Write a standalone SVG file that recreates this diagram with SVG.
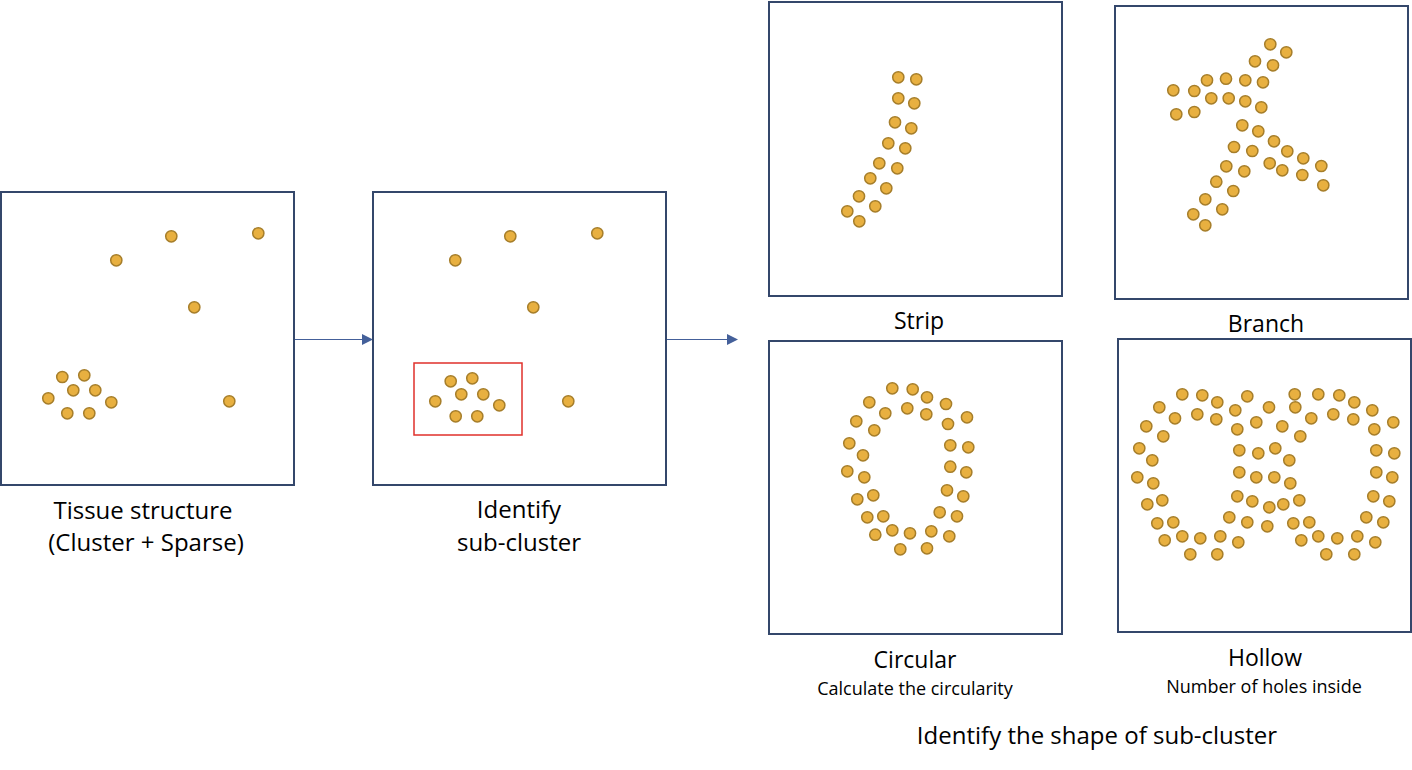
<svg xmlns="http://www.w3.org/2000/svg" xmlns:xlink="http://www.w3.org/1999/xlink" width="1412" height="770" viewBox="0 0 1412 770">
<style>
.panel{fill:#FFFFFF;stroke:#34476B;stroke-width:2}
.d{fill:#E8B040;stroke:#A67E2A;stroke-width:1.5}
.lbl{font-family:"Open Sans","Noto Sans","Liberation Sans",sans-serif;fill:#000000;text-anchor:middle}
.big{font-size:24px}
.mid{font-size:23px}
.sm{font-size:18px}
.conn{stroke:#44609A;stroke-width:1.2;fill:none}
</style>
<defs>
<marker id="ah" markerWidth="11" markerHeight="11" refX="10" refY="5.5" orient="auto" markerUnits="userSpaceOnUse">
<path d="M0,0 L11,5.5 L0,11 Z" fill="#44609A"/>
</marker>
</defs>
<rect width="1412" height="770" fill="#FFFFFF"/>

<g id="connectors">
<line class="conn" x1="294" y1="339.5" x2="372" y2="339.5" marker-end="url(#ah)"/>
<line class="conn" x1="666" y1="339.5" x2="737" y2="339.5" marker-end="url(#ah)"/>
</g>

<g id="tissue">
<rect class="panel" x="1" y="192" width="293" height="293"/>
<circle class="d" cx="171.3" cy="236.3" r="5.6"/>
<circle class="d" cx="258.3" cy="233.3" r="5.6"/>
<circle class="d" cx="116.3" cy="260.3" r="5.6"/>
<circle class="d" cx="194.3" cy="307.3" r="5.6"/>
<circle class="d" cx="62.3" cy="377" r="5.6"/>
<circle class="d" cx="84.3" cy="375.3" r="5.6"/>
<circle class="d" cx="73.3" cy="390.3" r="5.6"/>
<circle class="d" cx="95.3" cy="390.3" r="5.6"/>
<circle class="d" cx="48.3" cy="398.3" r="5.6"/>
<circle class="d" cx="111.3" cy="402.3" r="5.6"/>
<circle class="d" cx="67.3" cy="413.3" r="5.6"/>
<circle class="d" cx="89.3" cy="413.3" r="5.6"/>
<circle class="d" cx="229.3" cy="401.3" r="5.6"/>
<text class="lbl big" x="143" y="519">Tissue structure</text>
<text class="lbl big" x="146" y="551">(Cluster + Sparse)</text>
</g>

<g id="identify">
<rect class="panel" x="373" y="192" width="293" height="293"/>
<circle class="d" cx="510.3" cy="236.3" r="5.6"/>
<circle class="d" cx="597.3" cy="233.3" r="5.6"/>
<circle class="d" cx="455.3" cy="260.3" r="5.6"/>
<circle class="d" cx="533.3" cy="307.3" r="5.6"/>
<circle class="d" cx="568.3" cy="401.3" r="5.6"/>
<circle class="d" cx="450.7" cy="381.3" r="5.6"/>
<circle class="d" cx="472.3" cy="378.3" r="5.6"/>
<circle class="d" cx="461.3" cy="394.3" r="5.6"/>
<circle class="d" cx="483.3" cy="394.3" r="5.6"/>
<circle class="d" cx="435.3" cy="401.3" r="5.6"/>
<circle class="d" cx="499.3" cy="405.3" r="5.6"/>
<circle class="d" cx="455.7" cy="416.3" r="5.6"/>
<circle class="d" cx="477.3" cy="416.3" r="5.6"/>
<rect x="414" y="363" width="108" height="72" fill="none" stroke="#E0312B" stroke-width="1.5"/>
<text class="lbl big" x="519" y="518">Identify</text>
<text class="lbl big" x="519" y="551">sub-cluster</text>
</g>

<g id="strip">
<rect class="panel" x="769" y="2" width="293" height="294"/>
<circle class="d" cx="898.3" cy="77.3" r="5.6"/>
<circle class="d" cx="916.3" cy="79.3" r="5.6"/>
<circle class="d" cx="898.3" cy="98.3" r="5.6"/>
<circle class="d" cx="914.3" cy="103.3" r="5.6"/>
<circle class="d" cx="895" cy="122.3" r="5.6"/>
<circle class="d" cx="911.3" cy="128.3" r="5.6"/>
<circle class="d" cx="888.3" cy="143.3" r="5.6"/>
<circle class="d" cx="905.3" cy="148.3" r="5.6"/>
<circle class="d" cx="879.3" cy="163.3" r="5.6"/>
<circle class="d" cx="897.3" cy="168.3" r="5.6"/>
<circle class="d" cx="870.3" cy="178.3" r="5.6"/>
<circle class="d" cx="886.3" cy="188.3" r="5.6"/>
<circle class="d" cx="859" cy="196.3" r="5.6"/>
<circle class="d" cx="875.3" cy="206.3" r="5.6"/>
<circle class="d" cx="847.3" cy="211.3" r="5.6"/>
<circle class="d" cx="859.3" cy="221.3" r="5.6"/>
<text class="lbl mid" x="919" y="329">Strip</text>
</g>

<g id="branch">
<rect class="panel" x="1115" y="6" width="293" height="293"/>
<circle class="d" cx="1270.3" cy="44.3" r="5.6"/>
<circle class="d" cx="1286.3" cy="52.3" r="5.6"/>
<circle class="d" cx="1255" cy="61.3" r="5.6"/>
<circle class="d" cx="1273" cy="65.3" r="5.6"/>
<circle class="d" cx="1207" cy="80.3" r="5.6"/>
<circle class="d" cx="1226" cy="78.7" r="5.6"/>
<circle class="d" cx="1245.3" cy="80.3" r="5.6"/>
<circle class="d" cx="1263" cy="82.3" r="5.6"/>
<circle class="d" cx="1173.3" cy="90.3" r="5.6"/>
<circle class="d" cx="1194.3" cy="91" r="5.6"/>
<circle class="d" cx="1211.3" cy="98.3" r="5.6"/>
<circle class="d" cx="1228.7" cy="98.3" r="5.6"/>
<circle class="d" cx="1245.3" cy="101.3" r="5.6"/>
<circle class="d" cx="1261.3" cy="107.3" r="5.6"/>
<circle class="d" cx="1176.3" cy="114.3" r="5.6"/>
<circle class="d" cx="1194.3" cy="112" r="5.6"/>
<circle class="d" cx="1242.3" cy="125.3" r="5.6"/>
<circle class="d" cx="1258.3" cy="131.3" r="5.6"/>
<circle class="d" cx="1274" cy="141.3" r="5.6"/>
<circle class="d" cx="1234" cy="147" r="5.6"/>
<circle class="d" cx="1252.3" cy="151" r="5.6"/>
<circle class="d" cx="1287.3" cy="151.3" r="5.6"/>
<circle class="d" cx="1303.3" cy="158.3" r="5.6"/>
<circle class="d" cx="1321.3" cy="166" r="5.6"/>
<circle class="d" cx="1226.3" cy="166.3" r="5.6"/>
<circle class="d" cx="1269.7" cy="163.3" r="5.6"/>
<circle class="d" cx="1282.3" cy="170.3" r="5.6"/>
<circle class="d" cx="1244.3" cy="171.3" r="5.6"/>
<circle class="d" cx="1302.3" cy="175" r="5.6"/>
<circle class="d" cx="1323.3" cy="185.3" r="5.6"/>
<circle class="d" cx="1216.3" cy="181.7" r="5.6"/>
<circle class="d" cx="1233.3" cy="191" r="5.6"/>
<circle class="d" cx="1205.3" cy="199.3" r="5.6"/>
<circle class="d" cx="1222.3" cy="209.3" r="5.6"/>
<circle class="d" cx="1193.3" cy="214.3" r="5.6"/>
<circle class="d" cx="1205.3" cy="225.3" r="5.6"/>
<text class="lbl mid" x="1266" y="332">Branch</text>
</g>

<g id="circular">
<rect class="panel" x="769" y="341" width="293" height="293"/>
<circle class="d" cx="892.3" cy="388.3" r="5.6"/>
<circle class="d" cx="912.7" cy="389.3" r="5.6"/>
<circle class="d" cx="927" cy="397.3" r="5.6"/>
<circle class="d" cx="869.3" cy="402.3" r="5.6"/>
<circle class="d" cx="946" cy="404" r="5.6"/>
<circle class="d" cx="885.3" cy="413.3" r="5.6"/>
<circle class="d" cx="907.3" cy="408.3" r="5.6"/>
<circle class="d" cx="926.3" cy="414.3" r="5.6"/>
<circle class="d" cx="967" cy="417.3" r="5.6"/>
<circle class="d" cx="856.3" cy="421.3" r="5.6"/>
<circle class="d" cx="948" cy="424" r="5.6"/>
<circle class="d" cx="874.3" cy="430.3" r="5.6"/>
<circle class="d" cx="849.3" cy="443.3" r="5.6"/>
<circle class="d" cx="950.3" cy="445.3" r="5.6"/>
<circle class="d" cx="968.3" cy="447.3" r="5.6"/>
<circle class="d" cx="863" cy="455.3" r="5.6"/>
<circle class="d" cx="847.3" cy="471.3" r="5.6"/>
<circle class="d" cx="950.3" cy="466.7" r="5.6"/>
<circle class="d" cx="966.3" cy="472.3" r="5.6"/>
<circle class="d" cx="864.3" cy="477.3" r="5.6"/>
<circle class="d" cx="857.3" cy="499.3" r="5.6"/>
<circle class="d" cx="873.3" cy="495.3" r="5.6"/>
<circle class="d" cx="947" cy="490.3" r="5.6"/>
<circle class="d" cx="963.3" cy="496.3" r="5.6"/>
<circle class="d" cx="867.3" cy="517.3" r="5.6"/>
<circle class="d" cx="883.3" cy="516.3" r="5.6"/>
<circle class="d" cx="939.7" cy="512.3" r="5.6"/>
<circle class="d" cx="957" cy="516.3" r="5.6"/>
<circle class="d" cx="875.3" cy="534.7" r="5.6"/>
<circle class="d" cx="892.3" cy="530.3" r="5.6"/>
<circle class="d" cx="910" cy="533.3" r="5.6"/>
<circle class="d" cx="931.3" cy="531.3" r="5.6"/>
<circle class="d" cx="949.3" cy="536.3" r="5.6"/>
<circle class="d" cx="900.3" cy="549.3" r="5.6"/>
<circle class="d" cx="927" cy="548.3" r="5.6"/>
<text class="lbl mid" x="915" y="668">Circular</text>
<text class="lbl sm" x="915" y="695">Calculate the circularity</text>
</g>

<g id="hollow">
<rect class="panel" x="1118" y="339" width="293" height="293"/>
<circle class="d" cx="1182.3" cy="394.3" r="5.6"/>
<circle class="d" cx="1202.3" cy="395.3" r="5.6"/>
<circle class="d" cx="1217.3" cy="402.3" r="5.6"/>
<circle class="d" cx="1247.3" cy="396.3" r="5.6"/>
<circle class="d" cx="1294.7" cy="394.3" r="5.6"/>
<circle class="d" cx="1318.3" cy="394.3" r="5.6"/>
<circle class="d" cx="1339.3" cy="395.3" r="5.6"/>
<circle class="d" cx="1354.3" cy="402.3" r="5.6"/>
<circle class="d" cx="1159.3" cy="407.3" r="5.6"/>
<circle class="d" cx="1235.3" cy="410.3" r="5.6"/>
<circle class="d" cx="1269" cy="407.3" r="5.6"/>
<circle class="d" cx="1295.3" cy="407.3" r="5.6"/>
<circle class="d" cx="1372.3" cy="410.3" r="5.6"/>
<circle class="d" cx="1175" cy="418.3" r="5.6"/>
<circle class="d" cx="1197.3" cy="414.3" r="5.6"/>
<circle class="d" cx="1216.3" cy="419.3" r="5.6"/>
<circle class="d" cx="1256.3" cy="422.3" r="5.6"/>
<circle class="d" cx="1311.3" cy="418.3" r="5.6"/>
<circle class="d" cx="1333.3" cy="414.3" r="5.6"/>
<circle class="d" cx="1353.3" cy="419.3" r="5.6"/>
<circle class="d" cx="1393.3" cy="422.3" r="5.6"/>
<circle class="d" cx="1146.3" cy="426.3" r="5.6"/>
<circle class="d" cx="1237.3" cy="429.3" r="5.6"/>
<circle class="d" cx="1282.3" cy="426.3" r="5.6"/>
<circle class="d" cx="1374.3" cy="429.3" r="5.6"/>
<circle class="d" cx="1163.3" cy="436.3" r="5.6"/>
<circle class="d" cx="1300.3" cy="436.3" r="5.6"/>
<circle class="d" cx="1139.3" cy="448.3" r="5.6"/>
<circle class="d" cx="1239.3" cy="450.3" r="5.6"/>
<circle class="d" cx="1258.3" cy="453.3" r="5.6"/>
<circle class="d" cx="1275.3" cy="448.3" r="5.6"/>
<circle class="d" cx="1376.3" cy="450.3" r="5.6"/>
<circle class="d" cx="1394.3" cy="453.3" r="5.6"/>
<circle class="d" cx="1152.3" cy="460.3" r="5.6"/>
<circle class="d" cx="1289.3" cy="460.3" r="5.6"/>
<circle class="d" cx="1137.3" cy="477.3" r="5.6"/>
<circle class="d" cx="1239.3" cy="472.3" r="5.6"/>
<circle class="d" cx="1256.3" cy="477.3" r="5.6"/>
<circle class="d" cx="1274.3" cy="477.3" r="5.6"/>
<circle class="d" cx="1376.3" cy="472.3" r="5.6"/>
<circle class="d" cx="1392.3" cy="477.3" r="5.6"/>
<circle class="d" cx="1153.3" cy="483.3" r="5.6"/>
<circle class="d" cx="1290.3" cy="483.3" r="5.6"/>
<circle class="d" cx="1147.3" cy="504.3" r="5.6"/>
<circle class="d" cx="1162.3" cy="500.3" r="5.6"/>
<circle class="d" cx="1237.3" cy="496.3" r="5.6"/>
<circle class="d" cx="1252.3" cy="501.3" r="5.6"/>
<circle class="d" cx="1269.3" cy="507.3" r="5.6"/>
<circle class="d" cx="1283.3" cy="504.3" r="5.6"/>
<circle class="d" cx="1299.3" cy="500.3" r="5.6"/>
<circle class="d" cx="1373.3" cy="496.3" r="5.6"/>
<circle class="d" cx="1389.3" cy="501.3" r="5.6"/>
<circle class="d" cx="1157.3" cy="523.3" r="5.6"/>
<circle class="d" cx="1173.3" cy="522.3" r="5.6"/>
<circle class="d" cx="1229.3" cy="517.3" r="5.6"/>
<circle class="d" cx="1247.3" cy="522.3" r="5.6"/>
<circle class="d" cx="1267.3" cy="526.3" r="5.6"/>
<circle class="d" cx="1293.3" cy="523.3" r="5.6"/>
<circle class="d" cx="1309.3" cy="522.3" r="5.6"/>
<circle class="d" cx="1366.3" cy="517.3" r="5.6"/>
<circle class="d" cx="1383.3" cy="522.3" r="5.6"/>
<circle class="d" cx="1164.7" cy="540.3" r="5.6"/>
<circle class="d" cx="1182.3" cy="536.3" r="5.6"/>
<circle class="d" cx="1200.3" cy="538.3" r="5.6"/>
<circle class="d" cx="1220.3" cy="536.3" r="5.6"/>
<circle class="d" cx="1238.3" cy="542.3" r="5.6"/>
<circle class="d" cx="1301.3" cy="540.3" r="5.6"/>
<circle class="d" cx="1318.3" cy="536.3" r="5.6"/>
<circle class="d" cx="1337.3" cy="538.3" r="5.6"/>
<circle class="d" cx="1357.3" cy="536.3" r="5.6"/>
<circle class="d" cx="1375.3" cy="542.3" r="5.6"/>
<circle class="d" cx="1190.3" cy="554.3" r="5.6"/>
<circle class="d" cx="1217.3" cy="554.3" r="5.6"/>
<circle class="d" cx="1326.3" cy="554.3" r="5.6"/>
<circle class="d" cx="1354.3" cy="554.3" r="5.6"/>
<text class="lbl mid" x="1265" y="666">Hollow</text>
<text class="lbl sm" x="1264" y="693">Number of holes inside</text>
</g>

<g id="title">
<text class="lbl big" x="1097" y="744">Identify the shape of sub-cluster</text>
</g>
</svg>
